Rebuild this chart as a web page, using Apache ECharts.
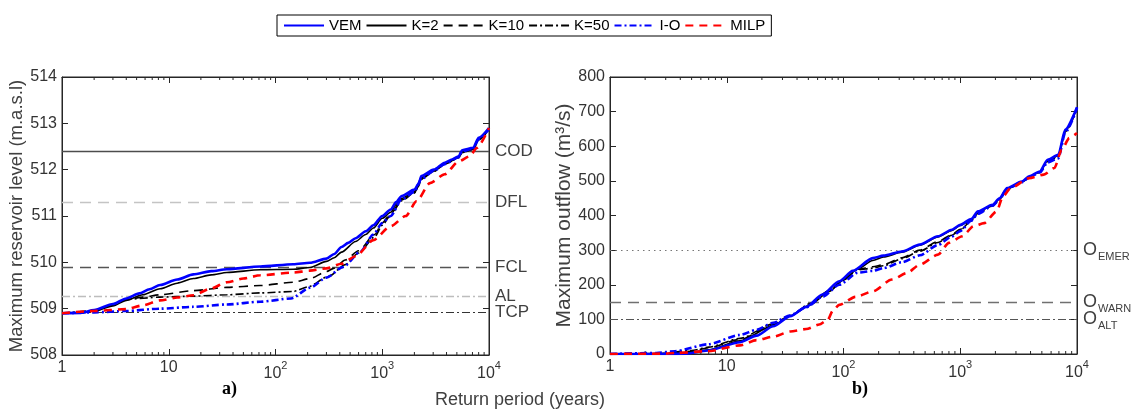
<!DOCTYPE html>
<html><head><meta charset="utf-8">
<script src="https://cdn.jsdelivr.net/npm/echarts@6/dist/echarts.min.js"></script>
<style>html,body{margin:0;padding:0;background:#fff}#c{width:1131px;height:410px}</style>
</head><body><div id="c"></div>
<script>
// ---- Panel a) maximum reservoir level (m.a.s.l) vs return period ----
const lvlT_VEM = [1,1.5,2,3,4,5.3,6.6,8.3,12,17,25,35,72,147,210,300,355,415,480,563,700,825,1000,1200,1350,1520,2000,2200,2320,3040,3850,4500,5200,5600,7100,8000,10000];
const lvl_VEM  = [508.9,508.91,508.97,509.1,509.22,509.33,509.42,509.51,509.63,509.74,509.81,509.85,509.91,509.96,509.99,510.08,510.18,510.33,510.42,510.52,510.67,510.8,511.0,511.14,511.3,511.43,511.57,511.7,511.86,512.0,512.15,512.22,512.29,512.42,512.47,512.69,512.9];
const lvlT_K2 = [1,1.5,2,3,4,5.7,8.3,12,17,25,35,72,147,210,300,355,415,563,700,825,1000,1200,1350,1520,2000,2200,2320,3040,3850,4500,5200,5600,7100,8000,10000];
const lvl_K2  = [508.9,508.91,508.95,509.06,509.18,509.3,509.43,509.55,509.65,509.73,509.78,509.84,509.85,509.89,510.02,510.1,510.22,510.45,510.6,510.74,510.95,511.08,511.25,511.38,511.52,511.65,511.83,511.98,512.13,512.2,512.27,512.38,512.44,512.65,512.88];
const lvlT_K10 = [1,2,3,4,5.7,8.3,17,35,72,147,210,300,350,450,600,850,1000,1200,1520,2000,2320,3040,3850,5200,5600,7100,8000,10000];
const lvl_K10  = [508.9,508.95,509.08,509.2,509.25,509.3,509.39,509.46,509.5,509.57,509.65,509.8,509.87,510.05,510.25,510.6,510.85,511.05,511.35,511.5,511.8,511.97,512.12,512.26,512.37,512.44,512.64,512.87];
const lvlT_K50 = [1,2,3,4,8.3,17,35,72,147,200,316,450,600,850,1000,1200,1520,2000,2320,3040,3850,5200,5600,7100,8000,10000];
const lvl_K50  = [508.9,508.95,509.08,509.2,509.25,509.27,509.3,509.34,509.37,509.47,509.7,509.95,510.2,510.55,510.8,511.02,511.33,511.5,511.8,511.96,512.12,512.26,512.37,512.44,512.64,512.87];
const lvlT_IO = [1,2,4,8.3,17,35,72,140,210,300,430,630,825,1000,1200,1520,2000,2320,3040,3850,5200,5600,7100,8000,10000];
const lvl_IO  = [508.9,508.92,508.95,509.0,509.04,509.09,509.15,509.22,509.45,509.67,509.9,510.24,510.6,510.85,511.0,511.36,511.52,511.8,511.97,512.12,512.27,512.4,512.45,512.66,512.88];
const lvlT_MILP = [1,2,4,5.7,8.3,12,17,24.5,35,50,72,147,210,300,415,563,825,1200,1660,2100,2800,3850,5200,6600,7700,10000];
const lvl_MILP  = [508.9,508.95,508.99,509.07,509.18,509.24,509.29,509.43,509.57,509.65,509.72,509.78,509.82,509.87,509.97,510.13,510.48,510.78,511.0,511.32,511.71,511.9,512.18,512.29,512.47,512.9];

// ---- Panel b) maximum outflow (m3/s) vs return period ----
const flwT_VEM = [1,3,4.5,6.9,13,18,25,35,48,66,92,120,178,220,316,450,645,850,1000,1240,1420,1890,2170,2520,3370,3900,4800,5600,6900,7950,10000];
const flw_VEM  = [0,0,1,10,34,53,80,109,136,172,210,240,277,284,296,316,340,359,373,390,412,431,450,479,498,513,527,561,575,648,713];
const flwT_K2 = [1,3,5,7,13,25,35,52,75,100,133,178,220,316,450,645,850,1000,1240,1420,1890,2170,2520,3370,3900,4800,5600,6900,7950,10000];
const flw_K2  = [0,0,4,12,38,82,110,142,180,213,246,270,280,294,314,338,357,371,388,410,430,448,478,497,512,526,558,573,645,712];
const flwT_K10 = [1,2.5,5,7,13,25,35,52,75,100,133,178,220,316,450,645,850,1000,1240,1420,1890,2170,2520,3370,3900,4800,5600,6900,7950,10000];
const flw_K10  = [0,0,8,18,42,85,110,145,182,215,245,252,258,278,300,325,345,360,385,408,428,446,477,496,511,525,556,570,643,710];
const flwT_K50 = [1,2.5,5,7,13,25,35,52,75,100,133,178,220,316,450,645,850,1000,1240,1420,1890,2170,2520,3370,3900,4800,5600,6900,7950,10000];
const flw_K50  = [0,1,10,20,45,87,111,146,183,215,243,248,255,275,297,322,343,358,384,407,428,446,477,496,511,525,555,569,642,710];
const flwT_IO = [1,2.5,3.6,6.9,13,18,25,35,48,66,92,133,178,220,316,450,645,850,1000,1240,1420,1890,2170,2520,3370,3900,4800,5600,6900,7950,10000];
const flw_IO  = [0,3,8,28,55,70,90,112,135,165,200,235,240,248,265,285,315,340,355,385,405,428,446,477,496,510,524,553,565,640,710];
const flwT_MILP = [1,3,3.6,6.9,13,18,25,35,48,62,73,81,92,127,178,260,350,450,645,800,1040,1300,1600,2050,2320,2700,3900,5200,6400,7400,8600,10000];
const flw_MILP  = [0,1,3,8,25,40,50,65,72,85,98,125,142,165,181,215,234,258,287,321,340,369,378,412,455,479,508,518,537,590,624,638];

// ---- reference levels ----
const levelNames = ['COD','DFL','FCL','AL','TCP'];
const levelValues = [512.4, 511.3, 509.9, 509.27, 508.92];
const flowNames = ['EMER','WARN','ALT'];
const flowValues = [300, 150, 100];

// ---- axes / ticks ----
const xMinorTicks = [2,3,4,5,6,7,8,9,20,30,40,50,60,70,80,90,200,300,400,500,600,700,800,900,2000,3000,4000,5000,6000,7000,8000,9000];
const seriesNames = ['VEM','K=2','K=10','K=50','I-O','MILP'];

const FONT = 'Liberation Sans, Arial, sans-serif';
const AX = '#262626';
const styles = {
  'VEM':  {color:'#0000ff', width:2.6, type:'solid', z:6},
  'K=2':  {color:'#000000', width:1.6, type:'solid', z:5},
  'K=10': {color:'#000000', width:1.6, type:[9,6], z:5},
  'K=50': {color:'#000000', width:1.6, type:[8,3,2,3], z:5},
  'I-O':  {color:'#0000ff', width:2.6, type:[7,3,2,3], z:6},
  'MILP': {color:'#ff0000', width:2.6, type:[8,6], z:7}
};
const lvlSets = {'VEM':[lvlT_VEM,lvl_VEM],'K=2':[lvlT_K2,lvl_K2],'K=10':[lvlT_K10,lvl_K10],'K=50':[lvlT_K50,lvl_K50],'I-O':[lvlT_IO,lvl_IO],'MILP':[lvlT_MILP,lvl_MILP]};
const flwSets = {'VEM':[flwT_VEM,flw_VEM],'K=2':[flwT_K2,flw_K2],'K=10':[flwT_K10,flw_K10],'K=50':[flwT_K50,flw_K50],'I-O':[flwT_IO,flw_IO],'MILP':[flwT_MILP,flw_MILP]};
const pairs = (xs, ys) => xs.map((x,i)=>[x, ys[i]]);

function xLabel(v){
  const e = Math.round(Math.log10(v));
  if (e === 0) return '1';
  if (e === 1) return '10';
  return '{b|10}{s|' + e + '}';
}
const supRich = {
  b:{fontSize:16, fontFamily:FONT, color:'#333', lineHeight:22, verticalAlign:'bottom'},
  s:{fontSize:11, fontFamily:FONT, color:'#333', lineHeight:11, verticalAlign:'top'}
};

function xAxes(grid){
  return [
    {type:'log', logBase:10, gridIndex:grid, min:1, max:10000, position:'bottom',
     axisLine:{show:true, onZero:false, lineStyle:{color:AX, width:1}},
     axisTick:{show:true, inside:true, length:6, lineStyle:{color:AX}},
     axisLabel:{show:true, formatter:xLabel, fontSize:16, fontFamily:FONT, color:'#333', margin:5, rich:supRich},
     splitLine:{show:false}},
    {type:'log', logBase:10, gridIndex:grid, min:1, max:10000, position:'top',
     axisLine:{show:true, onZero:false, lineStyle:{color:AX, width:1}},
     axisTick:{show:true, inside:true, length:6, lineStyle:{color:AX}},
     axisLabel:{show:false}, splitLine:{show:false}}
  ];
}
function yAxes(grid, min, max, interval, name, gap, nsize){
  return [
    {type:'value', gridIndex:grid, min:min, max:max, interval:interval, position:'left',
     name:name, nameLocation:'middle', nameGap:gap, nameRotate:90,
     nameTextStyle:{fontSize:nsize, fontFamily:FONT, color:'#404040'},
     axisLine:{show:true, onZero:false, lineStyle:{color:AX, width:1}},
     axisTick:{show:true, inside:true, length:6, lineStyle:{color:AX}},
     axisLabel:{fontSize:16, fontFamily:FONT, color:'#333', margin:5},
     splitLine:{show:false}},
    {type:'value', gridIndex:grid, min:min, max:max, interval:interval, position:'right',
     axisLine:{show:true, onZero:false, lineStyle:{color:AX, width:1}},
     axisTick:{show:true, inside:true, length:6, lineStyle:{color:AX}},
     axisLabel:{show:false}, splitLine:{show:false}}
  ];
}

function dataSeries(sets, xIdx, yIdx){
  return seriesNames.map(n => ({
    name:n, type:'line', xAxisIndex:xIdx, yAxisIndex:yIdx,
    data: pairs(sets[n][0], sets[n][1]),
    showSymbol:false, symbol:'none', smooth:0.25, smoothMonotone:'x',
    z: styles[n].z,
    lineStyle:{color:styles[n].color, width:styles[n].width, type:styles[n].type},
    itemStyle:{color:styles[n].color},
    emphasis:{disabled:true}, animation:false
  }));
}

function minorTickSeries(xIdx, yIdx, yMin){
  return {
    type:'custom', xAxisIndex:xIdx, yAxisIndex:yIdx, silent:true, clip:false, z:3,
    data: xMinorTicks.map(v=>[v, yMin]),
    renderItem:(params, api)=>{
      const p = api.coord([api.value(0), api.value(1)]);
      const cs = params.coordSys;
      const st = {stroke:AX, lineWidth:1};
      return {type:'group', children:[
        {type:'line', shape:{x1:p[0], y1:cs.y+cs.height, x2:p[0], y2:cs.y+cs.height-3}, style:st},
        {type:'line', shape:{x1:p[0], y1:cs.y, x2:p[0], y2:cs.y+3}, style:st}
      ]};
    },
    animation:false
  };
}

const lvlLineStyles = [
  {color:'#4d4d4d', width:1.3, type:'solid'},
  {color:'#c4c4c4', width:1.3, type:[11,7]},
  {color:'#555555', width:1.3, type:[11,7]},
  {color:'#bdbdbd', width:1.3, type:[8,3,2,3]},
  {color:'#333333', width:1.1, type:[8,3,2,3]}
];
const flwLineStyles = [
  {color:'#777777', width:1.1, type:[1.5,4]},
  {color:'#707070', width:1.3, type:[11,7]},
  {color:'#555555', width:1.1, type:[8,3,2,3]}
];

function refSeries(xIdx, yIdx, names, values, lstyles, rich){
  return {
    type:'line', xAxisIndex:xIdx, yAxisIndex:yIdx, data:[], silent:true, z:2,
    markLine:{
      symbol:['none','none'], silent:true, animation:false,
      data: names.map((n,i)=>({
        name:n, yAxis:values[i],
        lineStyle:lstyles[i],
        label:{show:true, position:'end', distance:6,
          formatter: rich ? ('{o|O}{s|' + n + '}') : n,
          fontSize:17, fontFamily:FONT, color:'#404040',
          rich: rich ? {
            o:{fontSize:18, fontFamily:FONT, color:'#404040', lineHeight:18, verticalAlign:'middle'},
            s:{fontSize:11, fontFamily:FONT, color:'#404040', lineHeight:11, verticalAlign:'middle', padding:[13,0,0,1]}
          } : undefined}
      }))
    }
  };
}

const chart = echarts.init(document.getElementById('c'), null, {renderer:'canvas'});
chart.setOption({
  animation:false,
  backgroundColor:'#fff',
  legend:{
    data:seriesNames, left:277, top:15, orient:'horizontal',
    itemWidth:40, itemHeight:10, itemGap:4,
    padding:[3,6,3,6],
    borderColor:'#000', borderWidth:1,
    itemStyle:{opacity:0},
    textStyle:{fontSize:15, fontFamily:FONT, color:'#000'},
    selectedMode:false
  },
  grid:[
    {left:62, top:77, width:427, height:278, show:true, borderColor:AX, borderWidth:1, backgroundColor:'transparent'},
    {left:610, top:77, width:467, height:277, show:true, borderColor:AX, borderWidth:1, backgroundColor:'transparent'}
  ],
  xAxis:[...xAxes(0), ...xAxes(1)],
  yAxis:[...yAxes(0,508,514,1,'Maximum reservoir level (m.a.s.l)',35,18.5),
         ...yAxes(1,0,800,100,'Maximum outflow (m³/s)',32,21)],
  series:[
    refSeries(0,0,levelNames,levelValues,lvlLineStyles,false),
    refSeries(2,2,flowNames,flowValues,flwLineStyles,true),
    ...dataSeries(lvlSets,0,0),
    ...dataSeries(flwSets,2,2),
    minorTickSeries(0,0,508),
    minorTickSeries(2,2,0)
  ],
  graphic:[
    {type:'text', left:222, top:380, style:{text:'a)', fontSize:18, fontWeight:'bold', fontFamily:'Liberation Serif, Times New Roman, serif', fill:'#000'}},
    {type:'text', left:852, top:380, style:{text:'b)', fontSize:18, fontWeight:'bold', fontFamily:'Liberation Serif, Times New Roman, serif', fill:'#000'}},
    {type:'text', left:435, top:391, style:{text:'Return period (years)', fontSize:18, fontFamily:FONT, fill:'#404040'}}
  ]
});
</script>
</body></html>
